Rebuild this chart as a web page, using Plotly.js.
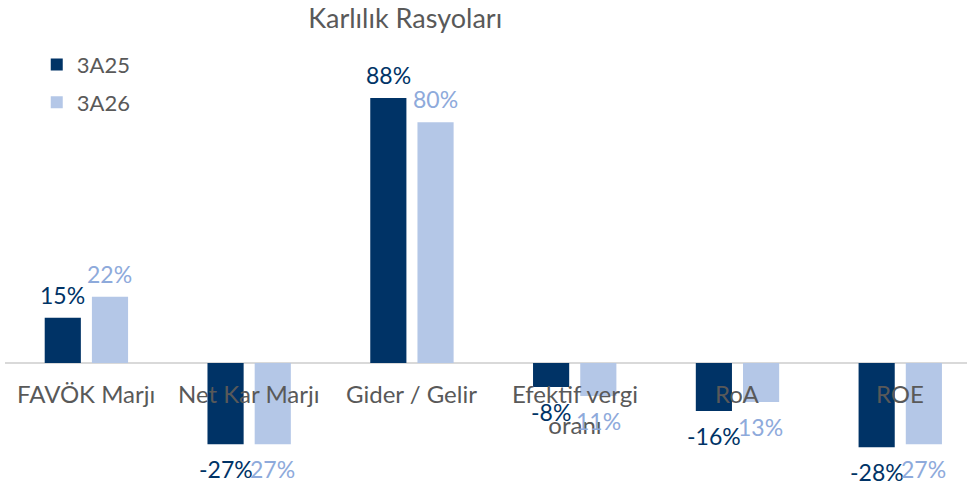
<!DOCTYPE html>
<html>
<head>
<meta charset="utf-8">
<script src="https://cdn.plot.ly/plotly-3.0.1.min.js"></script>
<style>html,body{margin:0;padding:0;background:#fff;}#chart{width:967px;height:486px;}</style>
</head>
<body>
<div id="chart"></div>
<script>
var categories = ['FAVÖK Marjı', 'Net Kar Marjı', 'Gider / Gelir', 'Efektif vergi<br>oranı', 'RoA', 'ROE'];
var values3A25 = [15, -27, 88, -8, -16, -28];
var values3A26 = [22, -27, 80, -11, -13, -27];
var labels3A25 = ['15%', '-27%', '88%', '-8%', '-16%', '-28%'];
var labels3A26 = ['22%', '27%', '80%', '11%', '13%', '27%'];
var seriesNames = ['3A25', '3A26'];

var FONT = 'Lato, "Open Sans", sans-serif';
var DARK = '#003366', LIGHT = '#b4c7e7', LIGHTTXT = '#8eaadb', GREY = '#595959';
var xs = categories.map(function(c, i){ return i; });

var traces = [
  {type:'bar', name:seriesNames[0], x:xs, y:values3A25,
   marker:{color:DARK}, legendgroup:'a', hoverinfo:'skip'},
  {type:'bar', name:seriesNames[1], x:xs, y:values3A26,
   marker:{color:LIGHT}, legendgroup:'b', hoverinfo:'skip'}
];

var annotations = categories.map(function(c, i){
  return {x:i, y:0, xref:'x', yref:'y', text:c, showarrow:false,
    yanchor:'top', yshift:-14, font:{family:FONT, size:24, color:GREY}};
});
function addLabels(vals, labels, color, xshift){
  vals.forEach(function(v, i){
    annotations.push({x:i, y:v, xref:'x', yref:'y', text:labels[i], showarrow:false,
      xshift:xshift, yanchor:'middle', yshift:(v >= 0 ? 23 : -25),
      font:{family:FONT, size:23, color:color}});
  });
}
addLabels(values3A25, labels3A25, DARK, -23.5);
addLabels(values3A26, labels3A26, LIGHTTXT, 23.5);

var layout = {
  width:967, height:486,
  margin:{l:5, r:0, t:0, b:0, pad:0},
  paper_bgcolor:'#fff', plot_bgcolor:'#fff',
  barmode:'group', bargap:0.42, bargroupgap:0.234,
  title:{text:'Karlılık Rasyoları', x:0.419, xanchor:'center', y:0.962, yanchor:'middle',
    font:{family:FONT, size:27, color:GREY}},
  xaxis:{range:[-0.5, 5.41], showticklabels:false, showgrid:false, zeroline:false, showline:false, fixedrange:true},
  yaxis:{range:[-40.9, 120.6], showticklabels:false, showgrid:false, zeroline:true,
    zerolinecolor:'#d9d9d9', zerolinewidth:2, fixedrange:true},
  showlegend:true,
  legend:{x:0.033, xanchor:'left', y:0.91, yanchor:'top', tracegroupgap:6,
    font:{family:FONT, size:22, color:GREY}, bgcolor:'rgba(0,0,0,0)'},
  annotations:annotations
};

Plotly.newPlot('chart', traces, layout, {displayModeBar:false, staticPlot:true});
</script>
</body>
</html>
